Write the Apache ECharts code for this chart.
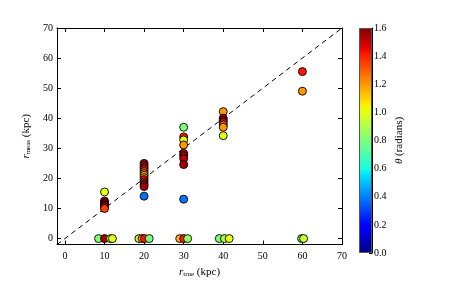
<!DOCTYPE html>
<html>
<head>
<meta charset="utf-8">
<script src="https://cdn.jsdelivr.net/npm/echarts@6/dist/echarts.min.js"></script>
<style>html,body{margin:0;padding:0;background:#fff;}#c{width:458px;height:283px;}</style>
</head>
<body>
<div id="c"></div>
<script>
// ---- data ----
var rTrue = [
  10,10,10,10,10,10,10, 8.5,10,11.5,12,
  20,20,20,20,20,20,20,20,20,20,20,20,20, 18.7,19.5,20.1,21.3,
  30,30,30,30,30,30,30,30,30, 29,30,31,
  40,40,40,40,40,40,40, 39,40.3,41.5,
  60,60, 59.8,60.3
];
var rMeas = [
  15.5,12.5,12,11.5,11,10.5,10, 0,0,0,0,
  25,24.3,23.6,23,22.3,21.6,21,20.3,19.6,18.8,18,17.3,14.1, 0,0,0,0,
  37,33.8,32.8,31.1,28.3,27.5,26.6,24.6,13.1, 0,0,0,
  42.2,40,39.3,38.6,37.8,37,34.2, 0,0,0,
  55.5,49, 0,0
];
var theta = [
  1.0,1.45,1.55,1.5,1.55,1.45,1.35, 0.82,1.55,0.93,1.0,
  1.55,1.52,1.45,1.42,1.35,1.22,1.1,1.2,1.42,1.52,1.55,1.55,0.38, 0.93,1.2,1.42,0.8,
  0.8,1.42,1.0,1.2,1.55,1.55,1.52,1.55,0.38, 1.15,1.42,0.85,
  1.2,1.52,1.55,1.45,1.3,1.2,1.0, 0.8,0.88,1.0,
  1.42,1.2, 0.78,0.95
];
var axisTicks = [0,10,20,30,40,50,60,70];
var cbarTicks = [0,0.2,0.4,0.6,0.8,1.0,1.2,1.4,1.6];
var diagX = [-2, 70];
var thetaMax = 1.6;

// ---- jet colormap ----
function interp(pts, t){
  for (var i=1;i<pts.length;i++){
    if (t<=pts[i][0]){
      var a=pts[i-1], b=pts[i];
      return a[1]+(b[1]-a[1])*(t-a[0])/(b[0]-a[0]);
    }
  }
  return pts[pts.length-1][1];
}
var R=[[0,0],[0.35,0],[0.66,1],[0.89,1],[1,0.5]];
var G=[[0,0],[0.125,0],[0.375,1],[0.64,1],[0.91,0],[1,0]];
var B=[[0,0.5],[0.11,1],[0.34,1],[0.65,0],[1,0]];
function jet(t){
  var r=Math.round(255*interp(R,t)),g=Math.round(255*interp(G,t)),b=Math.round(255*interp(B,t));
  return 'rgb('+r+','+g+','+b+')';
}
var N=64, jetColors=[], jetStops=[];
for (var i=0;i<=N;i++){ var t=i/N; jetColors.push(jet(t)); jetStops.push({offset:1-t,color:jet(t)}); }
jetStops.sort(function(a,b){return a.offset-b.offset;});

var pts = rTrue.map(function(x,i){ return [x, rMeas[i], theta[i]]; });
var diag = diagX.map(function(x){ return [x, x]; });

var FONT='Liberation Serif';
var lbl={fontFamily:FONT,fontSize:10,color:'#000'};
var chart=echarts.init(document.getElementById('c'),null,{renderer:'canvas'});
chart.setOption({
  animation:false,
  backgroundColor:'#fff',
  grid:[
    {left:57,top:28,width:285,height:225},
    {left:359,top:28,width:13,height:225}
  ],
  xAxis:[
    {gridIndex:0,type:'value',min:-2,max:70,interval:10,position:'bottom',
     axisLine:{show:true,onZero:false,lineStyle:{color:'#000',width:1}},
     axisTick:{show:true,inside:true,length:4,lineStyle:{color:'#000'},customValues:axisTicks},
     axisLabel:Object.assign({margin:7,customValues:axisTicks},lbl),
     splitLine:{show:false},
     name:'{it|r}{sub|true} (kpc)',nameLocation:'middle',nameGap:20,
     nameTextStyle:{fontFamily:FONT,fontSize:11,color:'#000',rich:{it:{fontFamily:FONT,fontStyle:'italic',fontSize:11},sub:{fontFamily:FONT,fontSize:7,padding:[5,0,0,0]}}}
    },
    {gridIndex:0,type:'value',min:-2,max:70,interval:10,position:'top',
     axisLine:{show:true,onZero:false,lineStyle:{color:'#000',width:1}},
     axisTick:{show:true,inside:true,length:4,lineStyle:{color:'#000'},customValues:axisTicks},
     axisLabel:{show:false},splitLine:{show:false}},
    {gridIndex:1,type:'category',data:['c'],show:false}
  ],
  yAxis:[
    {gridIndex:0,type:'value',min:-2,max:70,interval:10,position:'left',
     axisLine:{show:true,onZero:false,lineStyle:{color:'#000',width:1}},
     axisTick:{show:true,inside:true,length:4,lineStyle:{color:'#000'},customValues:axisTicks},
     axisLabel:Object.assign({margin:4,customValues:axisTicks},lbl),
     splitLine:{show:false},
     name:'{it|r}{sub|meas} (kpc)',nameLocation:'middle',nameGap:18,nameRotate:90,
     nameTextStyle:{fontFamily:FONT,fontSize:11,color:'#000',rich:{it:{fontFamily:FONT,fontStyle:'italic',fontSize:11},sub:{fontFamily:FONT,fontSize:7,padding:[5,0,0,0]}}}
    },
    {gridIndex:0,type:'value',min:-2,max:70,interval:10,position:'right',
     axisLine:{show:true,onZero:false,lineStyle:{color:'#000',width:1}},
     axisTick:{show:true,inside:true,length:4,lineStyle:{color:'#000'},customValues:axisTicks},
     axisLabel:{show:false},splitLine:{show:false}},
    {gridIndex:1,type:'value',min:0,max:thetaMax,interval:0.2,position:'right',
     axisLine:{show:true,lineStyle:{color:'#000',width:1}},
     axisTick:{show:true,inside:true,length:3,lineStyle:{color:'#000'}},
     axisLabel:Object.assign({margin:2,formatter:function(v){return v.toFixed(1);}},lbl),
     splitLine:{show:false},
     name:'{it|θ} (radians)',nameLocation:'middle',nameGap:22,nameRotate:90,
     nameTextStyle:{fontFamily:FONT,fontSize:11,color:'#000',rich:{it:{fontFamily:FONT,fontStyle:'italic',fontSize:11}}}
    }
  ],
  visualMap:{show:false,type:'continuous',min:0,max:thetaMax,dimension:2,seriesIndex:1,inRange:{color:jetColors}},
  series:[
    {type:'line',xAxisIndex:0,yAxisIndex:0,data:diag,symbol:'none',silent:true,
     lineStyle:{color:'#000',width:1,type:[5,4]},z:1},
    {type:'scatter',xAxisIndex:0,yAxisIndex:0,data:pts,symbolSize:8,
     itemStyle:{borderColor:'#000',borderWidth:0.9,opacity:1},z:3},
    {type:'bar',xAxisIndex:2,yAxisIndex:2,data:[thetaMax],barWidth:'100%',silent:true,
     itemStyle:{borderColor:'#555',borderWidth:1,color:new echarts.graphic.LinearGradient(0,0,0,1,jetStops)}}
  ]
});
</script>
</body>
</html>
